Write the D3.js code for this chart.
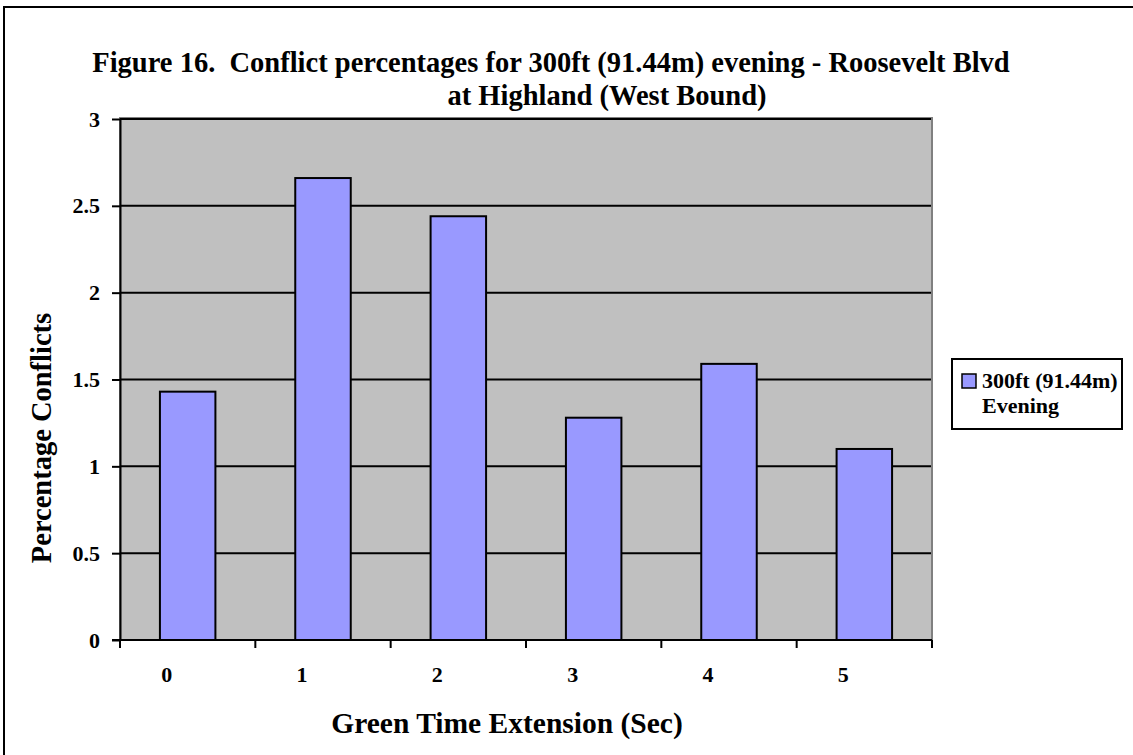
<!DOCTYPE html>
<html>
<head>
<meta charset="utf-8">
<script src="https://cdn.jsdelivr.net/npm/d3@7"></script>
<style>
  body { margin: 0; background: #fff; }
  svg text { font-family: "Liberation Serif", "Times New Roman", serif; font-weight: bold; fill: #000; white-space: pre; }
</style>
</head>
<body>
<div id="chart"></div>
<script>
// Data
const categories = ["0", "1", "2", "3", "4", "5"];
const conflictValues = [1.43, 2.66, 2.44, 1.28, 1.59, 1.10];
const yTicks = [0, 0.5, 1, 1.5, 2, 2.5, 3];
const yTickLabels = ["0", "0.5", "1", "1.5", "2", "2.5", "3"];
const seriesName = ["300ft (91.44m)", "Evening"];
const titleLines = ["Figure 16.  Conflict percentages for 300ft (91.44m) evening - Roosevelt Blvd", "at Highland (West Bound)"];

const W = 1133, H = 755;
const plot = { left: 120, right: 932, top: 119, bottom: 640 };
const tickFont = 22;

const svg = d3.select("#chart").append("svg")
    .attr("width", W)
    .attr("height", H);

// outer frame (right/bottom run off the picture)
svg.append("rect")
    .attr("x", 4).attr("y", 7)
    .attr("width", W + 10).attr("height", H + 10)
    .attr("fill", "#fff")
    .attr("stroke", "#000")
    .attr("stroke-width", 2);

// scales
const x = d3.scaleBand()
    .domain(categories)
    .range([plot.left, plot.right])
    .paddingInner(0.59)
    .paddingOuter(0.295);

const y = d3.scaleLinear()
    .domain([0, 3])
    .range([plot.bottom, plot.top]);

// plot background
svg.append("rect")
    .attr("x", plot.left).attr("y", plot.top - 1)
    .attr("width", plot.right - plot.left).attr("height", plot.bottom - plot.top + 1)
    .attr("fill", "#c0c0c0")
    .attr("stroke", "#808080")
    .attr("stroke-width", 2);

// gridlines
svg.append("g")
    .selectAll("line")
    .data(yTicks.filter(d => d > 0))
    .enter().append("line")
    .attr("x1", plot.left).attr("x2", plot.right - 1)
    .attr("y1", d => y(d)).attr("y2", d => y(d))
    .attr("stroke", "#000")
    .attr("stroke-width", 2);

// bars
svg.append("g")
    .selectAll("rect")
    .data(conflictValues)
    .enter().append("rect")
    .attr("x", (d, i) => x(categories[i]))
    .attr("y", d => y(d))
    .attr("width", x.bandwidth())
    .attr("height", d => y(0) - y(d))
    .attr("fill", "#9999ff")
    .attr("stroke", "#000")
    .attr("stroke-width", 2);

// y axis
const yAxis = svg.append("g")
    .attr("transform", `translate(${plot.left},0)`)
    .call(d3.axisLeft(y)
        .tickValues(yTicks)
        .tickFormat((d, i) => yTickLabels[i])
        .tickSize(8)
        .tickSizeOuter(0)
        .tickPadding(12));
yAxis.attr("font-size", tickFont).attr("font-family", null);
yAxis.select(".domain").attr("stroke", "#000").attr("stroke-width", 2);
yAxis.selectAll(".tick line").attr("stroke", "#000").attr("stroke-width", 2);
yAxis.selectAll("text")
    .style("font-size", tickFont + "px")
    .attr("fill", "#000");

// x axis line
svg.append("line")
    .attr("x1", plot.left - 8).attr("x2", plot.right)
    .attr("y1", plot.bottom).attr("y2", plot.bottom)
    .attr("stroke", "#000")
    .attr("stroke-width", 2);

// x ticks at category boundaries
const gap = (x.step() - x.bandwidth()) / 2;
const boundaries = categories.map(c => x(c) - gap).concat([plot.right]);
svg.append("g")
    .selectAll("line")
    .data(boundaries)
    .enter().append("line")
    .attr("x1", d => d).attr("x2", d => d)
    .attr("y1", plot.bottom).attr("y2", plot.bottom + 8)
    .attr("stroke", "#000")
    .attr("stroke-width", 2);

// x tick labels (sit a little left of the bar centres, as in the original)
svg.append("g")
    .selectAll("text")
    .data(categories)
    .enter().append("text")
    .attr("x", d => x(d) + x.bandwidth() / 2 - 21)
    .attr("y", 682)
    .attr("text-anchor", "middle")
    .style("font-size", tickFont + "px")
    .text(d => d);

// title
svg.append("text")
    .attr("x", 551).attr("y", 72)
    .attr("text-anchor", "middle")
    .style("font-size", "28.5px")
    .text(titleLines[0]);
svg.append("text")
    .attr("x", 607).attr("y", 105)
    .attr("text-anchor", "middle")
    .style("font-size", "28.5px")
    .text(titleLines[1]);

// axis titles
svg.append("text")
    .attr("transform", "translate(51,438) rotate(-90)")
    .attr("text-anchor", "middle")
    .style("font-size", "28.5px")
    .text("Percentage Conflicts");

svg.append("text")
    .attr("x", 507).attr("y", 733)
    .attr("text-anchor", "middle")
    .style("font-size", "29.5px")
    .text("Green Time Extension (Sec)");

// legend
const legend = svg.append("g");
legend.append("rect")
    .attr("x", 952).attr("y", 359)
    .attr("width", 170).attr("height", 70)
    .attr("fill", "#fff")
    .attr("stroke", "#000")
    .attr("stroke-width", 2);
legend.append("rect")
    .attr("x", 962).attr("y", 374)
    .attr("width", 14).attr("height", 14)
    .attr("fill", "#9999ff")
    .attr("stroke", "#000")
    .attr("stroke-width", 1.5);
legend.selectAll("text.lg")
    .data(seriesName)
    .enter().append("text")
    .attr("class", "lg")
    .attr("x", 982)
    .attr("y", (d, i) => 388 + i * 25)
    .style("font-size", "22px")
    .text(d => d);
</script>
</body>
</html>
